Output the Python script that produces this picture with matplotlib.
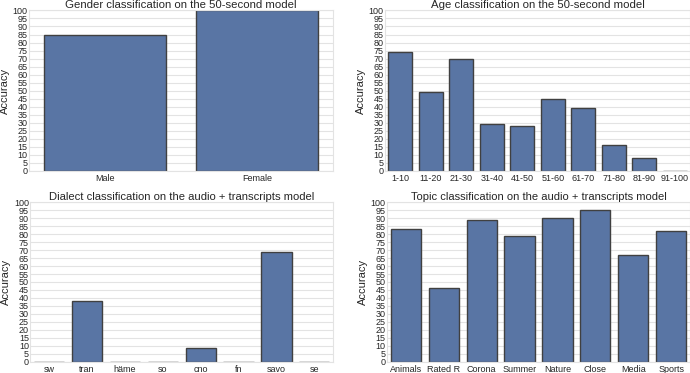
import numpy as np
import matplotlib
matplotlib.use("Agg")
import matplotlib.pyplot as plt
import seaborn as sns

# Data
gender_labels = ["Male", "Female"]
gender_acc = [85, 100]

age_labels = ["1-10", "11-20", "21-30", "31-40", "41-50", "51-60",
              "61-70", "71-80", "81-90", "91-100"]
age_acc = [74, 49, 70, 29, 28, 45, 39, 16, 8, 0]

dialect_labels = ["sw", "tran", "häme", "so", "cno", "fn", "savo", "se"]
dialect_acc = [0, 38, 0, 0, 8.5, 0, 68.5, 0]

topic_labels = ["Animals", "Rated R", "Corona", "Summer", "Nature",
                "Close", "Media", "Sports"]
topic_acc = [83, 46, 89, 79, 90, 95, 67, 82]

sns.set_style("whitegrid")
plt.rcParams['font.family'] = ['Liberation Sans', 'DejaVu Sans']

BAR_COLOR = "#5975a4"


def draw_panel(ax, labels, values, title, title_size=8.2):
    x = np.arange(len(labels))
    ax.bar(x, values, width=0.8, color=BAR_COLOR, edgecolor="0.25", linewidth=1.0)
    ax.set_xlim(-0.5, len(labels) - 0.5)
    ax.set_ylim(0, 100)
    ax.set_yticks(np.arange(0, 101, 5))
    ax.set_xticks(x)
    ax.set_xticklabels(labels)
    ax.tick_params(axis="y", labelsize=6.5, pad=1, length=0, labelcolor="0.15")
    ax.tick_params(axis="x", labelsize=6.5, pad=2, length=0, labelcolor="0.15")
    ax.set_ylabel("Accuracy", fontsize=8, labelpad=2, color="0.15")
    ax.set_title(title, fontsize=title_size, pad=1.5, color="0.15")
    ax.grid(axis="x", visible=False)
    ax.grid(axis="y", color="#e3e3e3", linewidth=0.8)
    for s in ax.spines.values():
        s.set_color("#e3e3e3")
        s.set_linewidth(0.8)
    ax.set_axisbelow(True)


fig = plt.figure(figsize=(6.9, 3.73), dpi=100)

ax1 = fig.add_axes([0.042, 0.542, 0.441, 0.430])
ax2 = fig.add_axes([0.558, 0.542, 0.442, 0.430])
ax3 = fig.add_axes([0.044, 0.030, 0.439, 0.428])
ax4 = fig.add_axes([0.561, 0.030, 0.439, 0.428])

draw_panel(ax1, gender_labels, gender_acc, "Gender classification on the 50-second model")
draw_panel(ax2, age_labels, age_acc, "Age classification on the 50-second model")
draw_panel(ax3, dialect_labels, dialect_acc, "Dialect classification on the audio + transcripts model", 8.1)
draw_panel(ax4, topic_labels, topic_acc, "Topic classification on the audio + transcripts model", 8.0)

fig.savefig("out.png", dpi=100)
